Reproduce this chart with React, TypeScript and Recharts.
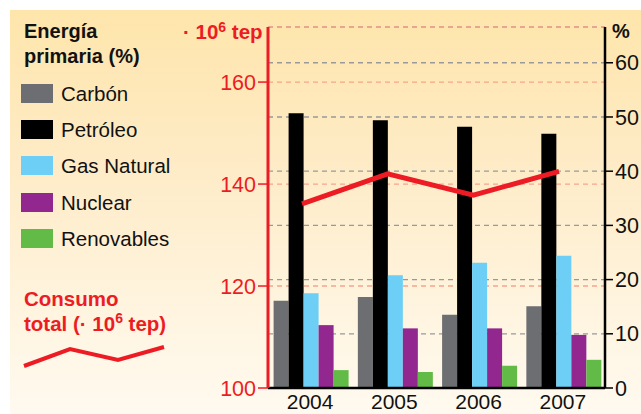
import React from 'react'
import {
  ComposedChart,
  Bar,
  Line,
  XAxis,
  YAxis,
  CartesianGrid,
} from 'recharts'

// años y porcentajes por fuente (eje derecho, %)
const years = ['2004', '2005', '2006', '2007']
const carbon = [16.1, 16.8, 13.5, 15.1]
const petroleo = [50.7, 49.4, 48.2, 46.9]
const gasNatural = [17.5, 20.8, 23.1, 24.4]
const nuclear = [11.6, 11.0, 11.0, 9.8]
const renovables = [3.3, 2.95, 4.1, 5.2]
// consumo total, 10^6 tep (eje izquierdo)
const consumo = [136.1, 142.0, 137.8, 142.5]

const leftTicks = [100, 120, 140, 160]
const rightTicks = [0, 10, 20, 30, 40, 50, 60]

const series = [
  { key: 'carbon', name: 'Carbón', color: '#6d6e71' },
  { key: 'petroleo', name: 'Petróleo', color: '#000000' },
  { key: 'gas', name: 'Gas Natural', color: '#6dcff6' },
  { key: 'nuclear', name: 'Nuclear', color: '#92278f' },
  { key: 'renovables', name: 'Renovables', color: '#62bb46' },
]

const data = years.map((y, i) => ({
  year: y,
  idx: i,
  carbon: carbon[i],
  petroleo: petroleo[i],
  gas: gasNatural[i],
  nuclear: nuclear[i],
  renovables: renovables[i],
  consumo: consumo[i],
}))

const RED = '#ed1c24'
const FONT = '"Liberation Sans", Arial, sans-serif'
const sup = { fontSize: 14, verticalAlign: 'top', lineHeight: '14px' } as const

function SideLegend() {
  return (
    <div style={{ position: 'absolute', left: 0, top: 0, width: 240, height: 414, fontFamily: FONT }}>
      <div style={{ position: 'absolute', left: 24, top: 19, fontWeight: 700, fontSize: 20, lineHeight: '25px', color: '#111' }}>
        Energía
        <br />
        primaria (%)
      </div>
      {series.map((s, i) => (
        <div key={s.key} style={{ position: 'absolute', left: 21, top: 84 + i * 36.2, display: 'flex', alignItems: 'center' }}>
          <div style={{ width: 32, height: 19, background: s.color }} />
          <span style={{ marginLeft: 8, fontSize: 20.5, color: '#111', lineHeight: '19px' }}>{s.name}</span>
        </div>
      ))}
      <div style={{ position: 'absolute', left: 24, top: 286, fontWeight: 700, fontSize: 20.5, lineHeight: '25px', color: RED }}>
        Consumo
        <br />
        total (· 10<sup style={sup}>6</sup> tep)
      </div>
      <svg style={{ position: 'absolute', left: 0, top: 0 }} width={240} height={414}>
        <polyline points="24,366 70,349 118,360 164,347" fill="none" stroke={RED} strokeWidth={4} />
      </svg>
    </div>
  )
}

export default function App() {
  return (
    <div style={{ position: 'absolute', left: 0, top: 0, width: 641, height: 414, background: '#fff', overflow: 'hidden' }}>
      <div
        style={{
          position: 'absolute',
          left: 10,
          top: 10,
          width: 631,
          height: 404,
          background: 'linear-gradient(to bottom, #fee5ab 0%, #feecc8 40%, #fffaf0 100%)',
        }}
      />
      <SideLegend />
      <div style={{ position: 'absolute', left: 183, top: 20, fontFamily: FONT, fontWeight: 700, fontSize: 20.5, color: RED }}>
        · 10<sup style={sup}>6</sup> tep
      </div>
      <div style={{ position: 'absolute', left: 612, top: 20, fontFamily: FONT, fontWeight: 700, fontSize: 20, color: '#111' }}>%</div>
      <div style={{ position: 'absolute', left: 0, top: 0 }}>
        <ComposedChart
          width={641}
          height={414}
          data={data}
          margin={{ top: 27, right: 0, left: 0, bottom: 0 }}
          barCategoryGap={5.6}
          barGap={0}
        >
          <CartesianGrid
            xAxisId="cat"
            yAxisId="right"
            vertical={false}
            stroke="#999999"
            strokeWidth={1.3}
            strokeDasharray="5 4"
          />
          <CartesianGrid
            xAxisId="cat"
            yAxisId="left"
            vertical={false}
            stroke="#f6a48e"
            strokeWidth={1.3}
            strokeDasharray="5 4"
          />
          <XAxis
            xAxisId="cat"
            dataKey="year"
            height={26}
            tickLine={false}
            tickMargin={0}
            stroke="#000"
            axisLine={{ stroke: '#000', strokeWidth: 2.5 }}
            tick={{ fill: '#111', fontSize: 21, fontFamily: FONT }}
            interval={0}
          />
          <XAxis
            xAxisId="line"
            dataKey="idx"
            type="number"
            domain={[-0.397, 3.537]}
            hide
          />
          <YAxis
            yAxisId="left"
            orientation="left"
            width={268}
            domain={[100, 170.8]}
            ticks={leftTicks}
            tickSize={10}
            tickMargin={2}
            stroke={RED}
            axisLine={{ stroke: RED, strokeWidth: 3 }}
            tickLine={{ stroke: RED, strokeWidth: 1.5 }}
            tick={{ fill: RED, fontSize: 21.5, fontFamily: FONT }}
          />
          <YAxis
            yAxisId="right"
            orientation="right"
            width={36}
            domain={[0, 66.6]}
            ticks={rightTicks}
            tickSize={8}
            tickMargin={2}
            stroke="#000"
            axisLine={{ stroke: '#000', strokeWidth: 2.5 }}
            tickLine={{ stroke: '#000', strokeWidth: 1.5 }}
            tick={{ fill: '#111', fontSize: 21.5, fontFamily: FONT }}
          />
          {series.map((s) => (
            <Bar
              key={s.key}
              xAxisId="cat"
              yAxisId="right"
              dataKey={s.key}
              name={s.name}
              fill={s.color}
              isAnimationActive={false}
            />
          ))}
          <Line
            xAxisId="line"
            yAxisId="left"
            dataKey="consumo"
            type="linear"
            stroke={RED}
            strokeWidth={5}
            dot={false}
            activeDot={false}
            isAnimationActive={false}
          />
        </ComposedChart>
      </div>
    </div>
  )
}
